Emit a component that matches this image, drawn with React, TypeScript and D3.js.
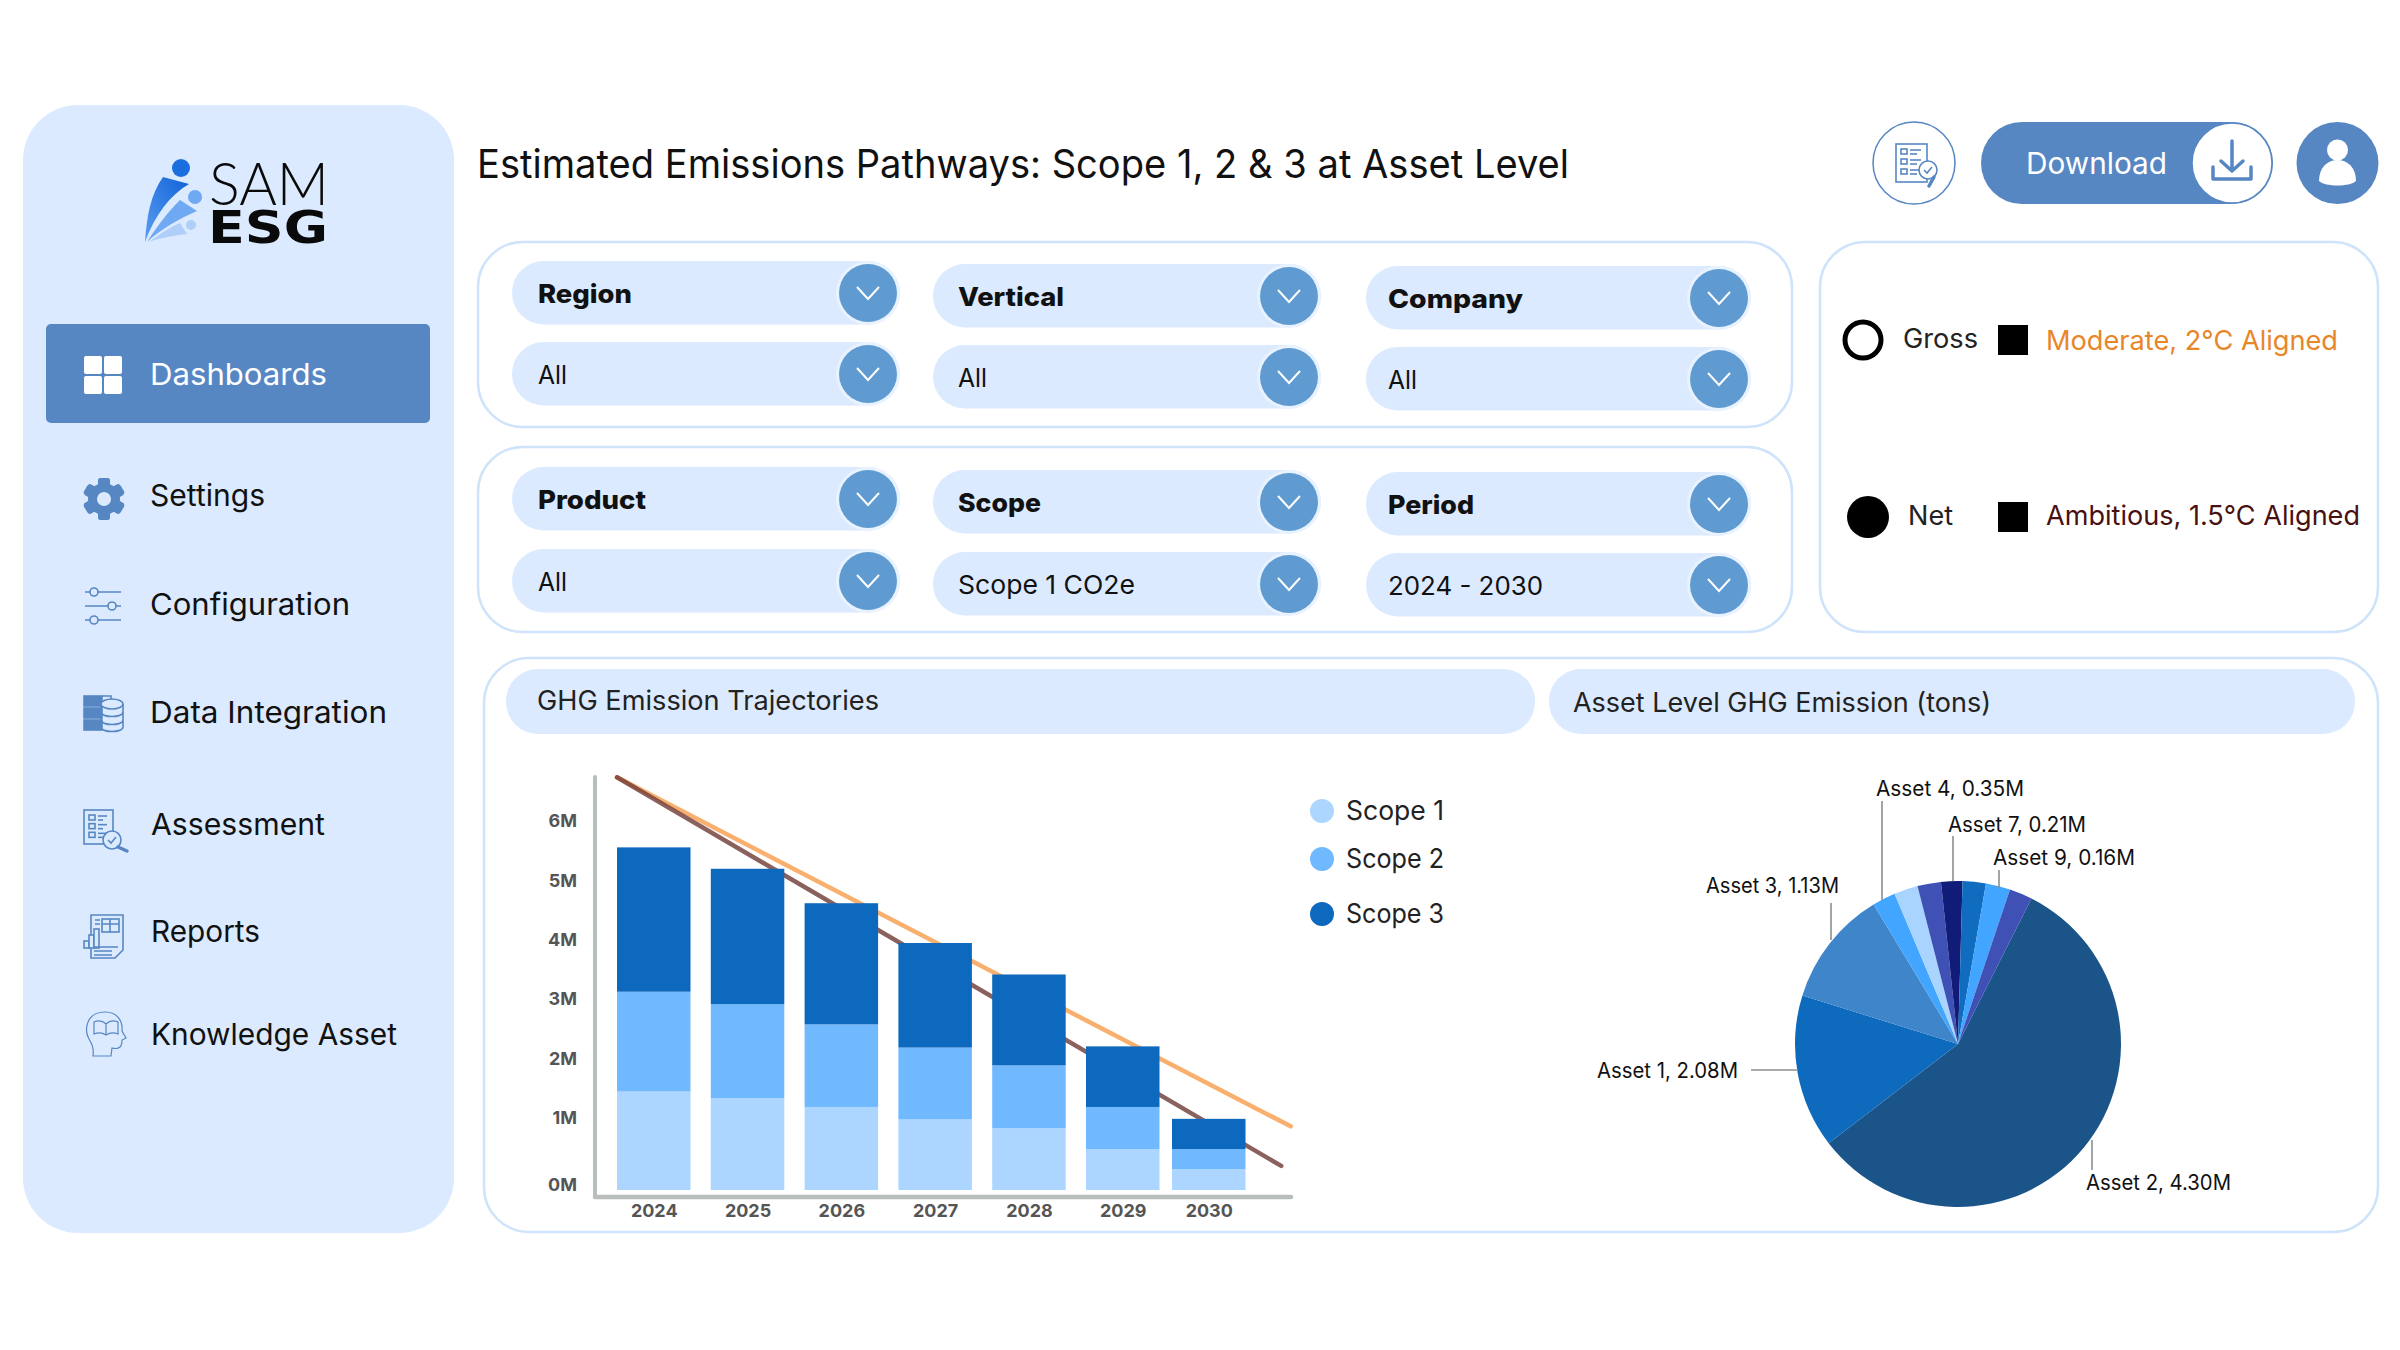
import React, { useEffect, useRef } from 'react';
import * as d3 from 'd3';

const years = [2024, 2025, 2026, 2027, 2028, 2029, 2030];
const scope1 = [1.53, 1.42, 1.27, 1.06, 0.92, 0.61, 0.31];
const scope2 = [1.68, 1.58, 1.39, 1.21, 1.05, 0.66, 0.3];
const scope3 = [2.43, 2.28, 2.04, 1.76, 1.53, 1.02, 0.46];
const scopeNames = ['Scope 1', 'Scope 2', 'Scope 3'];
const scopeColors = ['#ACD6FF', '#70B9FF', '#0D69BD'];

// the two pathways run past the last bar
const moderateYears = [2024, 2031.38];
const moderateValues = [6.82, 0.95];
const ambitiousYears = [2024, 2031.27];
const ambitiousValues = [6.82, 0.36];

const yTicks = [0, 1, 2, 3, 4, 5, 6];

// slice sizes as drawn in the picture, the printed labels do not follow them
const sliceSizes = [205.7, 54.8, 41.5, 8.3, 8.5, 8.4, 7.6, 8.3, 8.7, 8.2];
const sliceColors = ['#1A5488', '#0E6ABD', '#3F85C9', '#42A5FF', '#A8D4FF', '#3F51B5', '#111C78', '#0F6CBF', '#42A5FF', '#3F51B5'];

const pieLabels = [
  { text: 'Asset 4, 0.35M', x: 1876, y: 788, w: 148, leader: [1882, 801, 1882, 900] },
  { text: 'Asset 7, 0.21M', x: 1948, y: 824, w: 138, leader: [1953, 836, 1953, 881] },
  { text: 'Asset 9, 0.16M', x: 1993, y: 857, w: 142, leader: [1999, 870, 1999, 888] },
  { text: 'Asset 3, 1.13M', x: 1706, y: 885, w: 133, leader: [1831, 903, 1831, 940] },
  { text: 'Asset 1, 2.08M', x: 1597, y: 1070, w: 141, leader: [1751, 1070, 1798, 1070] },
  { text: 'Asset 2, 4.30M', x: 2086, y: 1182, w: 145, leader: [2092, 1140, 2092, 1170] },
];

const navItems = ['Settings', 'Configuration', 'Data Integration', 'Assessment', 'Reports', 'Knowledge Asset'];
const navWidths = [115, 200, 237, 174, 109, 246];
const navY = [495, 604, 712, 824, 931, 1034];

const filterColumns = [
  { x: 512, w: 388, tx: 538 },
  { x: 933, w: 388, tx: 958 },
  { x: 1366, w: 385, tx: 1388 },
];
const filters = [
  { text: 'Region', bold: true, col: 0, y: 261, w: 94 },
  { text: 'All', bold: false, col: 0, y: 342, w: 29 },
  { text: 'Vertical', bold: true, col: 1, y: 264, w: 106 },
  { text: 'All', bold: false, col: 1, y: 345, w: 29 },
  { text: 'Company', bold: true, col: 2, y: 266, w: 135 },
  { text: 'All', bold: false, col: 2, y: 347, w: 29 },
  { text: 'Product', bold: true, col: 0, y: 467, w: 108 },
  { text: 'All', bold: false, col: 0, y: 549, w: 29 },
  { text: 'Scope', bold: true, col: 1, y: 470, w: 83 },
  { text: 'Scope 1 CO2e', bold: false, col: 1, y: 552, w: 177 },
  { text: 'Period', bold: true, col: 2, y: 472, w: 86 },
  { text: '2024 - 2030', bold: false, col: 2, y: 553, w: 155 },
];

const FONT = 'Inter, "Noto Sans", sans-serif';
const BLUE = '#5787C3';
const PALE = '#DBEAFE';
const EDGE = '#CFE3FA';

const T = ({ x, y, s, w, fill = '#111', weight = 400, family = FONT, children }: any) => (
  <text x={x} y={y} fontSize={s} fill={fill} fontWeight={weight} fontFamily={family} dominantBaseline="central"
    textLength={w} lengthAdjust="spacingAndGlyphs">{children}</text>
);

const GearIcon = () => (
  <g transform="translate(104,499)" fill={BLUE}>
    {d3.range(6).map(i => (
      <rect key={i} x={-6} y={-21} width={12} height={42} rx={3} transform={`rotate(${i * 60})`} />
    ))}
    <circle r={10.5} fill="none" stroke={BLUE} strokeWidth={11} />
    <circle r={7} fill={PALE} />
  </g>
);

const SlidersIcon = () => (
  <g stroke={BLUE} strokeWidth={1.6} fill={PALE}>
    <line x1={85} x2={121} y1={592} y2={592} />
    <line x1={85} x2={121} y1={606} y2={606} />
    <line x1={85} x2={121} y1={620} y2={620} />
    <circle cx={94} cy={592} r={4} />
    <circle cx={112} cy={606} r={4} />
    <circle cx={94} cy={620} r={4} />
  </g>
);

const DataIcon = () => (
  <g stroke={BLUE} strokeWidth={1.6} fill="none">
    {[696, 708, 720].map(y => <rect key={y} x={84} y={y} width={18} height={10} fill={BLUE} />)}
    <path d="M102,696 H111 V702" />
    <ellipse cx={112} cy={704} rx={11} ry={5} fill={PALE} />
    <path d="M101,704 V727 C101,733 123,733 123,727 V704 M101,712 C101,718 123,718 123,712 M101,720 C101,726 123,726 123,720" />
  </g>
);

const ChecklistIcon = ({ x, y, w, h, lens }: any) => (
  <g stroke={BLUE} strokeWidth={1.6} fill="none">
    <rect x={x} y={y} width={w} height={h} />
    {d3.range(3).map(i => (
      <g key={i}>
        <rect x={x + 5} y={y + 5 + i * (h - 8) / 3} width={6} height={5} />
        <line x1={x + 14} x2={x + w - 6} y1={y + 6 + i * (h - 8) / 3} y2={y + 6 + i * (h - 8) / 3} />
        <line x1={x + 14} x2={x + w - 10} y1={y + 10 + i * (h - 8) / 3} y2={y + 10 + i * (h - 8) / 3} />
      </g>
    ))}
    <circle cx={lens[0]} cy={lens[1]} r={9} fill={lens[2]} />
    <path d={`M${lens[0] - 4},${lens[1]} l3,3 l5,-6`} />
    <line x1={lens[0] + 6} y1={lens[1] + 7} x2={lens[3]} y2={lens[4]} strokeWidth={3.5} strokeLinecap="round" />
  </g>
);

const ReportsIcon = () => (
  <g stroke={BLUE} strokeWidth={1.6} fill="none">
    <path d="M91,915 H123 V950 L115,958 H91 Z" />
    <rect x={102} y={919} width={17} height={13} />
    <path d="M110,919 V932 M102,924 H119 M95,920 H100 M95,924 H100" />
    <rect x={84} y={941} width={5} height={7} fill={PALE} />
    <rect x={89} y={935} width={5} height={13} fill={PALE} />
    <rect x={94} y={929} width={5} height={19} fill={PALE} />
    <path d="M94,951 H112 M94,955 H112 M94,947 H118" />
  </g>
);

const HeadIcon = () => (
  <g stroke={BLUE} strokeWidth={1.2} fill="none">
    <path d="M93,1056 C94,1048 92,1044 89,1039 C84,1030 86,1012 105,1012 C118,1012 123,1022 122,1031 L126,1038 L122,1040 C122,1046 120,1050 112,1048 L111,1056 Z" />
    <path d="M94,1022 C99,1020 103,1021 106,1024 C109,1021 113,1020 118,1022 V1034 C113,1032 109,1033 106,1035 C103,1033 99,1032 94,1034 Z M106,1024 V1035" />
  </g>
);

const Logo = () => (
  <g>
    <defs>
      <linearGradient id="sw" x1="0" y1="1" x2="1" y2="0">
        <stop offset="0" stopColor="#5C9DF0" />
        <stop offset="1" stopColor="#0F62D8" />
      </linearGradient>
    </defs>
    <path d="M145,242 C147,214 151,194 163,177 L189,184 C170,195 155,215 145,242 Z" fill="url(#sw)" />
    <path d="M147,242 C158,225 168,212 180,200 L197,211 C178,219 160,230 147,242 Z" fill="#6FA8F3" />
    <path d="M149,242 C160,234 170,227 180,223 L187,234 C172,236 160,238 149,242 Z" fill="#AFCFF8" />
    <circle cx={181} cy={168} r={9} fill="#1A6EE0" />
    <circle cx={195} cy={197} r={7} fill="#6FA8F3" />
    <circle cx={191} cy={225} r={5} fill="#AFCFF8" />
    <T x={209} y={182} s={60} w={120} fill="#0A0A0A" family='Lato, sans-serif' weight={300}>SAM</T>
    <T x={208} y={227} s={44} w={120} fill="#0A0A0A" family='"DejaVu Sans", sans-serif' weight={700}>ESG</T>
  </g>
);

const Filter = ({ text, bold, col, y, w }: any) => {
  const c = filterColumns[col];
  const cx = c.x + c.w - 32;
  const cy = y + 32;
  return (
    <g>
      <rect x={c.x} y={y} width={c.w} height={63.5} rx={31.7} fill={PALE} />
      <circle cx={cx} cy={cy} r={32} fill="#E9F2FF" />
      <circle cx={cx} cy={cy} r={29} fill="#5F9BD1" />
      <path d={`M${cx - 11},${cy - 6} L${cx},${cy + 6} L${cx + 11},${cy - 6}`} fill="none" stroke="#fff" strokeWidth={2} />
      <T x={c.tx} y={cy} s={26} w={w} weight={bold ? 800 : 400}>{text}</T>
    </g>
  );
};

export default function App() {
  const yAxisRef = useRef<SVGGElement>(null);
  const xAxisRef = useRef<SVGGElement>(null);

  const barWidth = 73.5;
  const x = d3.scaleLinear().domain([2024, 2029, 2030]).range([617, 1086, 1172]);
  const y = d3.scaleLinear().domain([0, 1, 6]).range([1190, 1123, 826]);

  const rows = years.map((year, i) => ({ year, s1: scope1[i], s2: scope2[i], s3: scope3[i] }));
  const stacked = d3.stack<any>().keys(['s1', 's2', 's3'])(rows);

  const line = d3.line<number[]>().x(d => x(d[0])).y(d => y(d[1]));
  const moderate = line(moderateYears.map((t, i) => [t, moderateValues[i]])) || '';
  const ambitious = line(ambitiousYears.map((t, i) => [t, ambitiousValues[i]])) || '';

  const start = (26.8 * Math.PI) / 180;
  const slices = d3.pie<number>().sort(null).value(d => d).startAngle(start).endAngle(start + Math.PI * 2)(sliceSizes);
  const arc = d3.arc<d3.PieArcDatum<number>>().innerRadius(0).outerRadius(163);

  useEffect(() => {
    if (!yAxisRef.current || !xAxisRef.current) return;

    const yAxis = d3.axisLeft(y).tickValues(yTicks).tickSize(0).tickPadding(0).tickFormat(d => `${d}M`);
    const xAxis = d3.axisBottom(x).tickValues(years).tickSize(0).tickPadding(7).tickFormat(d => `${d}`);

    [d3.select(yAxisRef.current).call(yAxis as any), d3.select(xAxisRef.current).call(xAxis as any)].forEach(sel => {
      sel.select('.domain').remove();
      sel.selectAll('text')
        .attr('fill', '#555')
        .attr('font-size', 18)
        .attr('font-weight', 700)
        .attr('font-family', FONT);
    });
  }, []);

  return (
    <svg width={2400} height={1350} viewBox="0 0 2400 1350" style={{ position: 'absolute', left: 0, top: 0, background: '#fff' }}>
      {/* sidebar */}
      <rect x={23} y={105} width={431} height={1128} rx={55} fill={PALE} />
      <Logo />
      <rect x={46} y={324} width={384} height={99} rx={5} fill={BLUE} />
      {[[84, 356], [104, 356], [84, 376], [104, 376]].map(([a, b]) => (
        <rect key={`${a}-${b}`} x={a} y={b} width={18} height={18} rx={2} fill="#fff" />
      ))}
      <T x={150} y={374} s={30} w={177} fill="#fff">Dashboards</T>
      {navItems.map((item, i) => (
        <T key={item} x={i < 3 ? 150 : 151} y={navY[i]} s={30} w={navWidths[i]}>{item}</T>
      ))}
      <GearIcon />
      <SlidersIcon />
      <DataIcon />
      <ChecklistIcon x={84} y={810} w={29} h={34} lens={[112, 840, PALE, 127, 851]} />
      <ReportsIcon />
      <HeadIcon />

      {/* header */}
      <T x={477} y={163} s={39} w={1092}>Estimated Emissions Pathways: Scope 1, 2 &amp; 3 at Asset Level</T>
      <circle cx={1914} cy={163} r={41} fill="#fff" stroke={BLUE} strokeWidth={1.5} />
      <ChecklistIcon x={1896} y={144} w={31} h={38} lens={[1928, 170, '#fff', 1929, 186]} />
      <rect x={1981} y={122} width={292} height={82} rx={41} fill={BLUE} />
      <circle cx={2232} cy={163} r={40} fill="#fff" stroke={BLUE} strokeWidth={1.5} />
      <T x={2026} y={163} s={30} w={141} fill="#fff">Download</T>
      <path d="M2232,141 V171 M2221,161 L2232,171 L2243,161 M2213,167 V179 H2251 V167" fill="none" stroke={BLUE} strokeWidth={3.5} strokeLinecap="round" strokeLinejoin="round" />
      <circle cx={2337.5} cy={163} r={41} fill={BLUE} />
      <circle cx={2337.5} cy={150} r={10.5} fill="#fff" />
      <path d="M2319,181 C2319,167 2328,160 2337.5,160 C2347,160 2356,167 2356,181 C2350,187 2325,187 2319,181 Z" fill="#fff" />

      {/* filters */}
      <rect x={478} y={242} width={1314} height={185} rx={45} fill="none" stroke={EDGE} strokeWidth={2.5} />
      <rect x={478} y={447} width={1314} height={185} rx={45} fill="none" stroke={EDGE} strokeWidth={2.5} />
      {filters.map(f => <Filter key={`${f.col}-${f.y}`} {...f} />)}

      {/* gross, net and pathway legend */}
      <rect x={1820} y={242} width={558} height={390} rx={45} fill="none" stroke={EDGE} strokeWidth={2.5} />
      <circle cx={1863} cy={340} r={18} fill="#fff" stroke="#000" strokeWidth={5} />
      <T x={1903} y={338} s={27} w={75} fill="#222">Gross</T>
      <rect x={1998} y={325} width={30} height={30} fill="#000" />
      <T x={2046} y={340} s={27} w={292} fill="#E8862A">Moderate, 2°C Aligned</T>
      <circle cx={1868} cy={517} r={21} fill="#000" />
      <T x={1908} y={515} s={27} w={45} fill="#222">Net</T>
      <rect x={1998} y={502} width={30} height={30} fill="#000" />
      <T x={2046} y={515} s={27} w={314} fill="#4A1010">Ambitious, 1.5°C Aligned</T>

      {/* chart card */}
      <rect x={484} y={658} width={1894} height={574} rx={45} fill="none" stroke={EDGE} strokeWidth={2.5} />
      <rect x={506} y={669} width={1029} height={65} rx={32} fill={PALE} />
      <T x={537} y={700} s={27} w={342} fill="#222">GHG Emission Trajectories</T>
      <rect x={1549} y={669} width={806} height={65} rx={32} fill={PALE} />
      <T x={1573} y={702} s={27} w={418} fill="#222">Asset Level GHG Emission (tons)</T>

      {/* stacked bars and pathways */}
      <path d={moderate} fill="none" stroke="#F9B06F" strokeWidth={4.5} strokeLinecap="round" />
      <path d={ambitious} fill="none" stroke="#6E3A36" strokeOpacity={0.8} strokeWidth={4.5} strokeLinecap="round" />
      <g>
        {stacked.map((layer, i) => (
          <g key={layer.key} fill={scopeColors[i]}>
            {layer.map(d => (
              <rect key={d.data.year} x={x(d.data.year)} width={barWidth} y={y(d[1])} height={y(d[0]) - y(d[1])} />
            ))}
          </g>
        ))}
      </g>
      <line x1={595} x2={595} y1={777} y2={1197} stroke="#B8BDBD" strokeWidth={4} strokeLinecap="round" />
      <line x1={595} x2={1291} y1={1197} y2={1197} stroke="#B8BDBD" strokeWidth={4.5} strokeLinecap="round" />
      <g ref={yAxisRef} transform="translate(577,-5)" />
      <g ref={xAxisRef} transform={`translate(${barWidth / 2},1197)`} />

      {scopeNames.map((name, i) => (
        <g key={name}>
          <circle cx={1322} cy={[811, 859, 914][i]} r={12} fill={scopeColors[i]} />
          <T x={1346} y={[810, 858, 913][i]} s={27} w={98} fill="#222">{name}</T>
        </g>
      ))}

      {/* pie */}
      <g transform="translate(1958,1044)">
        {slices.map((s, i) => <path key={i} d={arc(s) || ''} fill={sliceColors[i]} />)}
      </g>
      {pieLabels.map(l => (
        <g key={l.text}>
          <line x1={l.leader[0]} y1={l.leader[1]} x2={l.leader[2]} y2={l.leader[3]} stroke="#8A8F8F" strokeWidth={1.6} />
          <T x={l.x} y={l.y} s={21} w={l.w} fill="#111">{l.text}</T>
        </g>
      ))}
    </svg>
  );
}
